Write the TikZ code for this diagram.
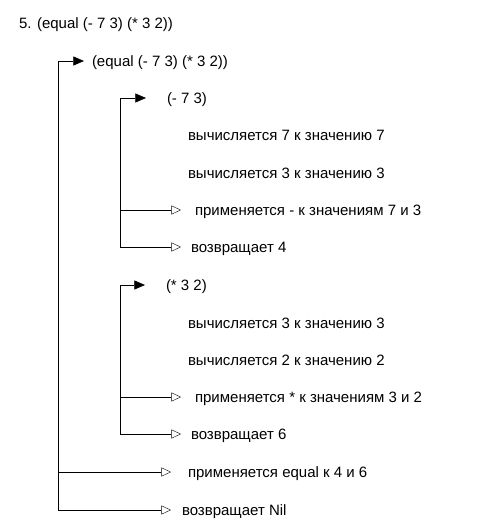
\documentclass[tikz,border=0pt]{standalone}
\usepackage{fontspec}
\setmainfont{Liberation Sans}
\usetikzlibrary{arrows.meta}
\begin{document}
\begin{tikzpicture}[x=1pt,y=-1pt]
\tikzset{ line width=1.2pt, inner sep=0pt, outer sep=0pt,
  txt/.style={anchor=west, font=\fontsize{15}{18}\selectfont, text height=11pt, text depth=0pt},
  call/.style={-{Triangle[length=12pt,width=10pt]}},
  ret/.style={-{Triangle[open,length=11pt,width=10pt]}} }

\useasboundingbox (0,0) rectangle (498,532);

\node [txt] (T) at (19,23) {5. (equal (- 7 3) (* 3 2))};
\node [txt] (E) at (92,61) {(equal (- 7 3) (* 3 2))};

% (- 7 3)
\node [txt] (S)  at (167,98)  {(- 7 3)};
\node [txt] (S1) at (188,135) {вычисляется 7 к значению 7};
\node [txt] (S2) at (188,173) {вычисляется 3 к значению 3};
\node [txt] (S3) at (195,210) {применяется - к значениям 7 и 3};
\node [txt] (S4) at (191,247) {возвращает 4};

% (* 3 2)
\node [txt] (M)  at (166,285) {(* 3 2)};
\node [txt] (M1) at (188,323) {вычисляется 3 к значению 3};
\node [txt] (M2) at (188,360) {вычисляется 2 к значению 2};
\node [txt] (M3) at (195,397) {применяется * к значениям 3 и 2};
\node [txt] (M4) at (191,434) {возвращает 6};

\node [txt] (A) at (188,472) {применяется equal к 4 и 6};
\node [txt] (N) at (182,510) {возвращает Nil};

\coordinate (Eb) at (58,510);
\coordinate (Sb) at (120,247);
\coordinate (Mb) at (120,434);

\draw [call] (Eb) |- ([xshift=-7pt]E.west);
\draw [call] (Sb) |- ([xshift=-20pt]S.west);
\draw [call] (Mb) |- ([xshift=-20pt]M.west);

\draw [ret] (Sb |- S3.west) -- ([xshift=-13pt]S3.west);
\draw [ret] (Sb) -- ([xshift=-9pt]S4.west);
\draw [ret] (Mb |- M3.west) -- ([xshift=-13pt]M3.west);
\draw [ret] (Mb) -- ([xshift=-9pt]M4.west);

\draw [ret] (Eb |- A.west) -- ([xshift=-16pt]A.west);
\draw [ret] (Eb) -- ([xshift=-10pt]N.west);

\end{tikzpicture}
\end{document}
